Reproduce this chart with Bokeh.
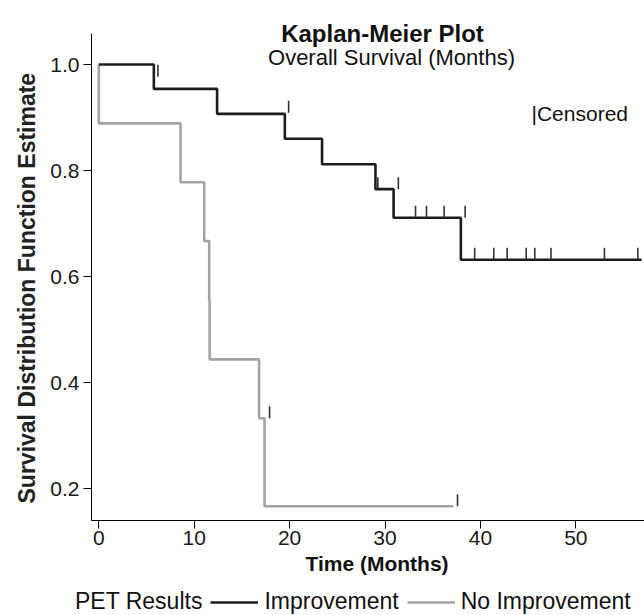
import math
from bokeh.plotting import figure
from bokeh.layouts import column
from bokeh.models import (Range1d, FixedTicker, PrintfTickFormatter, Label, Title,
                          Legend, LegendItem, ColumnDataSource)
from bokeh.embed import file_html
from bokeh.resources import INLINE

# ---------------- data ----------------
imp_time = [0, 5.77, 12.4, 19.5, 23.4, 29.0, 30.9, 37.95, 56.9]
imp_surv = [1.0, 0.954, 0.907, 0.860, 0.812, 0.765, 0.711, 0.632, 0.632]

imp_cens_time = [6.2, 19.9, 29.25, 31.4, 33.2, 34.35, 36.2, 38.4,
                 39.4, 41.4, 42.8, 44.8, 45.7, 47.4, 53.0, 56.5]
imp_cens_surv = [0.977, 0.909, 0.765, 0.765, 0.711, 0.711, 0.711, 0.711,
                 0.632, 0.632, 0.632, 0.632, 0.632, 0.632, 0.632, 0.632]

no_time = [0, 0, 8.57, 11.05, 11.57, 11.62, 16.8, 17.37, 37.15]
no_surv = [1.0, 0.889, 0.778, 0.667, 0.556, 0.444, 0.333, 0.167, 0.167]

no_cens_time = [17.9, 37.6]
no_cens_surv = [0.333, 0.167]

x_ticks = [0, 10, 20, 30, 40, 50]
y_ticks = [0.2, 0.4, 0.6, 0.8, 1.0]

title_text = "Kaplan-Meier Plot"
subtitle_text = "Overall Survival (Months)"
x_label = "Time (Months)"
y_label = "Survival Distribution Function Estimate"
legend_title = "PET Results"
series_names = ["Improvement", "No Improvement"]
censor_text = "|Censored"

# ---------------- styling ----------------
FONT = "Liberation Sans"
BLACK = "#1c1c1c"
GRAY = "#a3a3a3"
MARK = "#333333"
LW = 2.6
MARK_H = 0.0226  # height of censor tick in survival units

W = 644
H_MAIN, H_LEG = 588, 27
LEFT, BOTTOM = 91, 68

p = figure(width=W, height=H_MAIN, output_backend="svg", toolbar_location=None,
           x_range=Range1d(-0.765, 57.2), y_range=Range1d(0.1402, 1.1207),
           min_border_left=LEFT, min_border_right=0, min_border_top=0,
           min_border_bottom=BOTTOM)
p.frame_align = False
p.outline_line_color = None
p.xgrid.visible = False
p.ygrid.visible = False

# axes
p.xaxis.ticker = FixedTicker(ticks=x_ticks)
p.yaxis.ticker = FixedTicker(ticks=y_ticks)
p.yaxis.formatter = PrintfTickFormatter(format="%.1f")
p.yaxis.bounds = (0.1402, 1.0585)
for ax in (p.xaxis[0], p.yaxis[0]):
    ax.axis_line_color = "black"
    ax.axis_line_width = 1
    ax.major_tick_line_color = "black"
    ax.major_tick_out = 8
    ax.major_tick_in = 0
    ax.minor_tick_out = 0
    ax.minor_tick_in = 0
    ax.major_label_text_font = FONT
    ax.major_label_text_font_size = "21px"
    ax.major_label_text_color = "#1a1a1a"
p.xaxis.major_label_standoff = 2
p.yaxis.major_label_standoff = 4

# curves
src_no = ColumnDataSource(dict(t=no_time, s=no_surv))
src_imp = ColumnDataSource(dict(t=imp_time, s=imp_surv))
p.step("t", "s", source=src_no, mode="after", line_color=GRAY, line_width=LW)
p.step("t", "s", source=src_imp, mode="after", line_color=BLACK, line_width=LW)

# censor marks
cens_t = imp_cens_time + no_cens_time
cens_s = imp_cens_surv + no_cens_surv
p.segment(x0=cens_t, y0=cens_s, x1=cens_t, y1=[s + MARK_H for s in cens_s],
          line_color=MARK, line_width=1.6)

# texts inside the frame (frame-relative screen units)
FH = H_MAIN - BOTTOM
p.add_layout(Label(x=291, y=FH - 33, x_units="screen", y_units="screen",
                   text=title_text, text_align="center", text_baseline="alphabetic",
                   text_font=FONT, text_font_size="24px", text_font_style="bold",
                   text_color="#111111"))
p.add_layout(Label(x=300, y=FH - 57, x_units="screen", y_units="screen",
                   text=subtitle_text, text_align="center", text_baseline="alphabetic",
                   text_font=FONT, text_font_size="22px", text_color="#111111"))
p.add_layout(Label(x=440, y=FH - 113, x_units="screen", y_units="screen",
                   text=censor_text, text_align="left", text_baseline="alphabetic",
                   text_font=FONT, text_font_size="21px", text_color="#111111"))

# axis titles as side-panel titles
p.add_layout(Title(text=x_label, align="left", offset=214, standoff=4,
                   text_font=FONT, text_font_size="21px", text_font_style="bold",
                   text_color="#111111"), "below")
p.add_layout(Title(text=y_label, align="left", offset=17, standoff=16,
                   text_font=FONT, text_font_size="23px", text_font_style="bold",
                   text_color="#222222"), "left")

# legend row in its own strip (its renderers lie outside the strip's ranges)
lg = figure(width=W, height=H_LEG, output_backend="svg", toolbar_location=None,
            x_range=Range1d(1000, 1001), y_range=Range1d(1000, 1001),
            x_axis_type=None, y_axis_type=None,
            min_border=0, min_border_left=0, min_border_right=0,
            min_border_top=0, min_border_bottom=0)
lg.frame_align = False
lg.outline_line_color = None
lg.xgrid.visible = False
lg.ygrid.visible = False
r_blank = lg.line(x=imp_time, y=imp_surv, line_alpha=0)
r_imp = lg.line(x=imp_time, y=imp_surv, line_color=BLACK, line_width=LW)
r_no = lg.line(x=no_time, y=no_surv, line_color=GRAY, line_width=LW)
legend = Legend(items=[LegendItem(label=legend_title, renderers=[r_blank]),
                       LegendItem(label=series_names[0], renderers=[r_imp]),
                       LegendItem(label=series_names[1], renderers=[r_no])],
                orientation="horizontal", location=(21, 0),
                padding=0, margin=0, spacing=8, label_standoff=6,
                glyph_width=48, glyph_height=20,
                label_text_font=FONT, label_text_font_size="23px",
                label_text_color="#111111",
                background_fill_alpha=0, border_line_alpha=0)
lg.add_layout(legend)

layout = column(p, lg, spacing=0)
open("out.html", "w").write(file_html(layout, INLINE))
